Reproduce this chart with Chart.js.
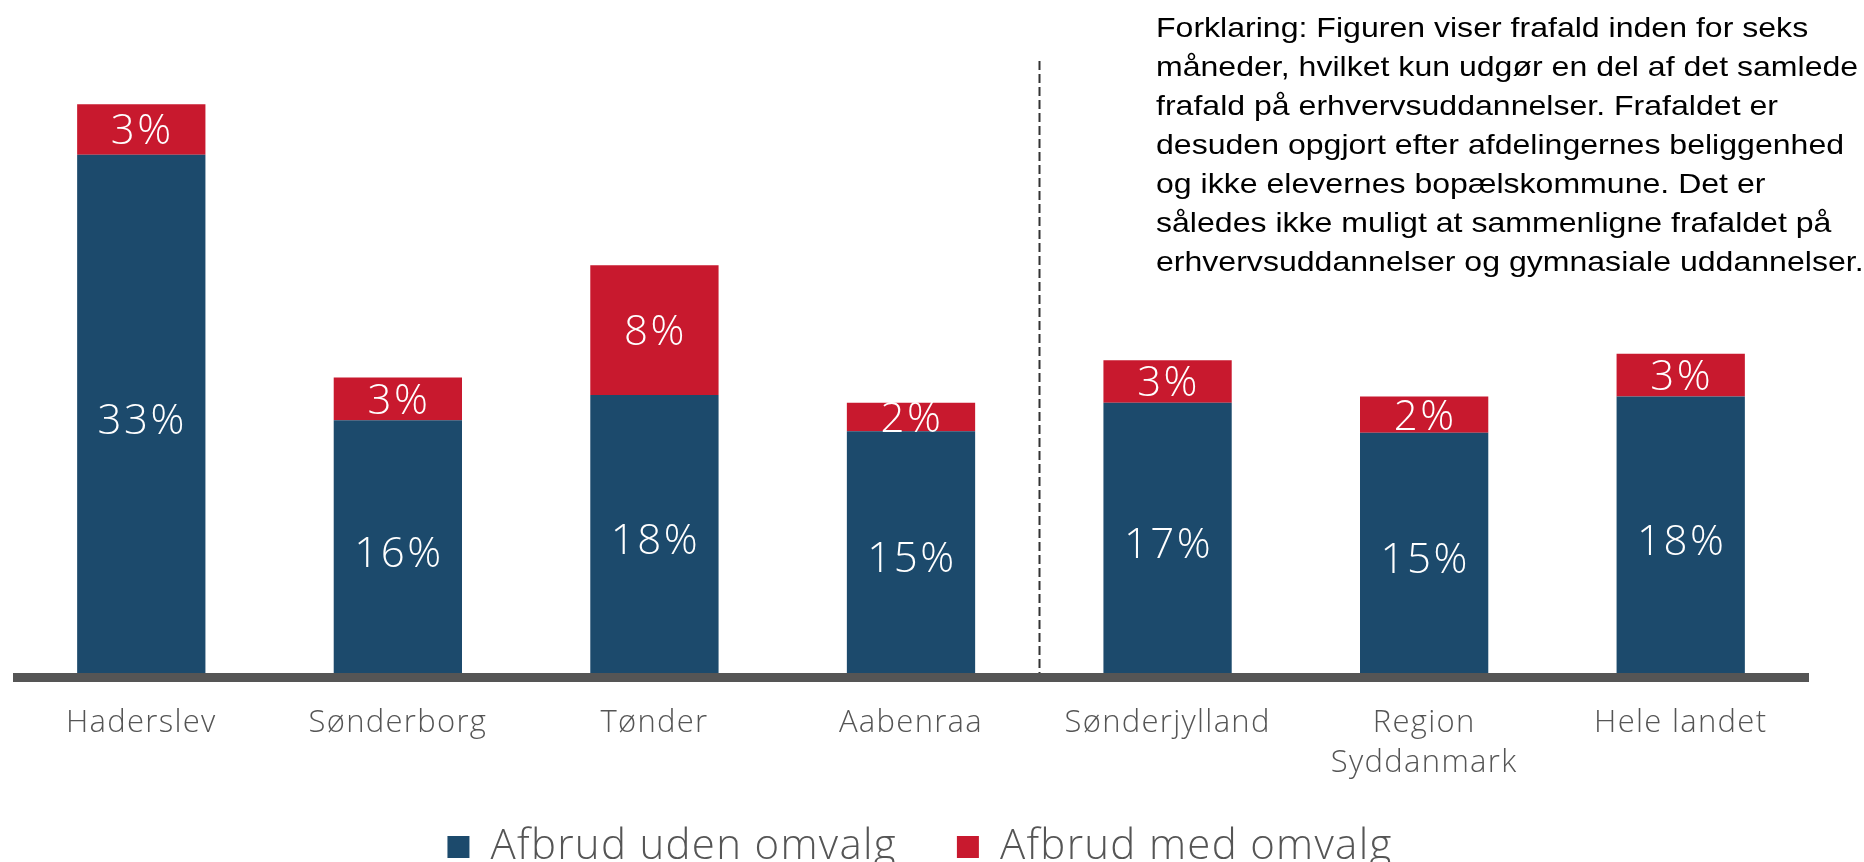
<!DOCTYPE html>
<html lang="da">
<head>
<meta charset="utf-8">
<title>Frafald inden for seks måneder</title>
<script src="https://cdn.jsdelivr.net/npm/chart.js@4/dist/chart.umd.min.js"></script>
<style>
  html, body { margin: 0; padding: 0; background: #fff; }
  .wrap { position: relative; width: 1864px; height: 862px; overflow: hidden; }
  #frafaldChart { position: absolute; left: 0; top: 0; }
  .note {
    position: absolute; left: 1156px; top: 8px;
    font-family: "Liberation Sans", Arial, sans-serif; font-size: 28px; line-height: 39px;
    color: #000; white-space: nowrap;
    transform: scaleX(1.145); transform-origin: left top;
  }
</style>
</head>
<body>
<div class="wrap">
  <canvas id="frafaldChart" width="1864" height="862"></canvas>
  <div class="note">
    Forklaring: Figuren viser frafald inden for seks<br>
    måneder, hvilket kun udgør en del af det samlede<br>
    frafald på erhvervsuddannelser. Frafaldet er<br>
    desuden opgjort efter afdelingernes beliggenhed<br>
    og ikke elevernes bopælskommune. Det er<br>
    således ikke muligt at sammenligne frafaldet på<br>
    erhvervsuddannelser og gymnasiale uddannelser.
  </div>
</div>
<script>
// values (bar heights), labels show them rounded
const categories = ['Haderslev', 'Sønderborg', 'Tønder', 'Aabenraa', 'Sønderjylland', ['Region', 'Syddanmark'], 'Hele landet'];
const udenOmvalg = [32.8, 16.0, 17.6, 15.3, 17.1, 15.2, 17.5];
const medOmvalg = [3.2, 2.7, 8.2, 1.8, 2.7, 2.3, 2.7];
const seriesNames = ['Afbrud uden omvalg', 'Afbrud med omvalg'];
const seriesColors = ['#1c4a6c', '#c8192e'];
const yMax = 40;
const dividerAfter = 3; // dashed line between Aabenraa and Sønderjylland

const fontFamily = '"Open Sans", Roboto, "DejaVu Sans", sans-serif';
const labelFont = '300 42px ' + fontFamily;

// the original lettering is a bit wider than Open Sans
const spacingPlugin = {
  id: 'spacing',
  beforeUpdate(chart) { chart.ctx.letterSpacing = '1.3px'; }
};

// x labels are taller than the box we give the axis, don't clip them; nudge legend a bit right
const layoutTweaksPlugin = {
  id: 'layoutTweaks',
  afterLayout(chart) {
    chart.scales.x.bottom = chart.height;
    chart.legend.left += 9;
    chart.legend.right += 9;
  }
};

const baselinePlugin = {
  id: 'baseline',
  afterDatasetsDraw(chart) {
    const { ctx, chartArea } = chart;
    ctx.save();
    ctx.fillStyle = '#555555';
    ctx.fillRect(chartArea.left, chartArea.bottom, chartArea.right - chartArea.left, 9);
    ctx.restore();
  }
};

const dividerPlugin = {
  id: 'divider',
  beforeDatasetsDraw(chart) {
    const { ctx, chartArea, scales } = chart;
    const x = Math.round((scales.x.getPixelForValue(dividerAfter) + scales.x.getPixelForValue(dividerAfter + 1)) / 2) + 0.5;
    ctx.save();
    ctx.strokeStyle = '#333333';
    ctx.lineWidth = 2;
    ctx.setLineDash([9, 4]);
    ctx.beginPath();
    ctx.moveTo(x, 61);
    ctx.lineTo(x, chartArea.bottom);
    ctx.stroke();
    ctx.restore();
  }
};

const barLabelsPlugin = {
  id: 'barLabels',
  afterDatasetsDraw(chart) {
    const { ctx } = chart;
    ctx.save();
    ctx.fillStyle = '#ffffff';
    ctx.font = labelFont;
    ctx.letterSpacing = '2.5px';
    ctx.textAlign = 'center';
    ctx.textBaseline = 'middle';
    chart.data.datasets.forEach((ds, di) => {
      const meta = chart.getDatasetMeta(di);
      meta.data.forEach((bar, i) => {
        const yMid = (bar.y + bar.base) / 2 + (di === 0 ? 8 : 3);
        ctx.fillText(Math.round(ds.data[i]) + '%', bar.x + 1, yMid);
      });
    });
    ctx.restore();
  }
};

new Chart(document.getElementById('frafaldChart'), {
  type: 'bar',
  data: {
    labels: categories,
    datasets: [
      { label: seriesNames[0], data: udenOmvalg, backgroundColor: seriesColors[0], borderWidth: 0 },
      { label: seriesNames[1], data: medOmvalg, backgroundColor: seriesColors[1], borderWidth: 0 },
    ]
  },
  options: {
    responsive: false,
    animation: false,
    categoryPercentage: 0.5,
    barPercentage: 1,
    layout: { padding: { left: 13, right: 55, top: 41, bottom: -16 } },
    scales: {
      x: {
        stacked: true,
        grid: { display: false, drawTicks: false },
        border: { display: false },
        afterFit(scale) { scale.height = 93; },
        ticks: {
          color: '#555555',
          padding: 30,
          font: { family: fontFamily, size: 31, weight: '300', lineHeight: 1.3 }
        }
      },
      y: { stacked: true, display: false, min: 0, max: yMax }
    },
    plugins: {
      tooltip: { enabled: false },
      legend: {
        position: 'bottom',
        labels: {
          color: '#555555',
          boxWidth: 22,
          boxHeight: 22,
          padding: 60,
          font: { family: fontFamily, size: 42, weight: '300' }
        }
      }
    }
  },
  plugins: [spacingPlugin, layoutTweaksPlugin, baselinePlugin, dividerPlugin, barLabelsPlugin]
});
</script>
</body>
</html>
